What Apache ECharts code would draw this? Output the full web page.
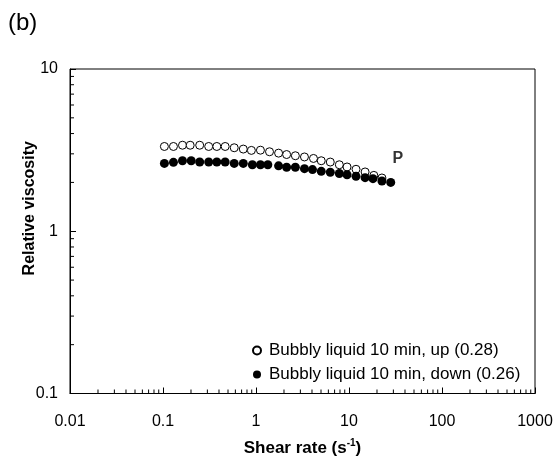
<!DOCTYPE html>
<html>
<head>
<meta charset="utf-8">
<script src="https://cdn.jsdelivr.net/npm/echarts@6/dist/echarts.min.js"></script>
<style>html,body{margin:0;padding:0;background:#fff}#c{width:556px;height:462px}</style>
</head>
<body>
<div id="c"></div>
<script>
// Data
var shearUp = [0.1035, 0.1295, 0.162, 0.196, 0.248, 0.31, 0.379, 0.466, 0.583, 0.73, 0.892, 1.116, 1.397, 1.749, 2.135, 2.65, 3.32, 4.15, 5.03, 6.29, 7.87, 9.53, 11.9, 14.9, 18.5, 22.6];
var viscUp  = [3.33, 3.33, 3.39, 3.39, 3.39, 3.33, 3.33, 3.33, 3.27, 3.21, 3.15, 3.16, 3.09, 3.03, 2.97, 2.92, 2.87, 2.81, 2.72, 2.67, 2.57, 2.49, 2.41, 2.32, 2.21, 2.13];
var shearDown = [0.1035, 0.1295, 0.162, 0.201, 0.248, 0.31, 0.379, 0.466, 0.583, 0.73, 0.914, 1.116, 1.34, 1.749, 2.135, 2.65, 3.32, 4.05, 5.03, 6.29, 7.87, 9.53, 11.9, 14.9, 18.1, 22.6, 28.1];
var viscDown  = [2.62, 2.66, 2.72, 2.72, 2.67, 2.67, 2.67, 2.67, 2.62, 2.62, 2.57, 2.57, 2.57, 2.53, 2.48, 2.48, 2.43, 2.40, 2.34, 2.31, 2.27, 2.23, 2.18, 2.14, 2.11, 2.04, 2.00];
var seriesNames = ['Bubbly liquid 10 min, up (0.28)', 'Bubbly liquid 10 min, down (0.26)'];
var xTicks = [0.01, 0.1, 1, 10, 100, 1000];
var yTicks = [0.1, 1, 10];
var xMinorTicks = [];
var yMinorTicks = [];
[0.01, 0.1, 1, 10, 100].forEach(function (d) { for (var k = 2; k <= 9; k++) xMinorTicks.push(+(d * k).toPrecision(6)); });
[0.1, 1].forEach(function (d) { for (var k = 2; k <= 9; k++) yMinorTicks.push(+(d * k).toPrecision(6)); });
var pointLabel = { text: 'P', x: 33.5, y: 2.8 };

function pair(xs, ys) { return xs.map(function (x, i) { return [x, ys[i]]; }); }
var fmt = function (v) { return String(+(+v).toPrecision(6)); };
var FONT = 'Arial, "Liberation Sans", sans-serif';

var chart = echarts.init(document.getElementById('c'));
chart.setOption({
  animation: false,
  backgroundColor: '#fff',
  textStyle: { fontFamily: FONT, color: '#000' },
  graphic: [{ type: 'text', left: 8, top: 11, style: { text: '(b)', font: '24px ' + FONT, fill: '#000' } }],
  grid: { left: 70, right: 21, top: 69, bottom: 65, show: true, borderColor: '#000', borderWidth: 1, backgroundColor: 'transparent' },
  legend: {
    orient: 'vertical', left: 247, top: 337, itemGap: 7, itemWidth: 14, itemHeight: 8,
    icon: 'circle', data: seriesNames,
    textStyle: { fontSize: 17, fontFamily: FONT, color: '#000' }
  },
  xAxis: {
    type: 'log', logBase: 10, min: 0.01, max: 1000,
    name: '{b|Shear rate (s}{sup|-1}{b|)}', nameLocation: 'middle', nameGap: 45, nameMoveOverlap: false,
    nameTextStyle: { rich: {
      b: { fontSize: 17, fontWeight: 'bold', fontFamily: FONT, color: '#000', lineHeight: 20 },
      sup: { fontSize: 10, fontWeight: 'bold', fontFamily: FONT, color: '#000', verticalAlign: 'top', lineHeight: 20, padding: [0, 0, 8, 0] }
    } },
    axisLine: { lineStyle: { color: '#000', width: 1 } },
    axisTick: { inside: true, length: 6, lineStyle: { color: '#000' } },
    axisLabel: { margin: 20, fontSize: 16, color: '#000', fontFamily: FONT, formatter: fmt },
    splitLine: { show: false }
  },
  yAxis: {
    type: 'log', logBase: 10, min: 0.1, max: 10,
    name: 'Relative viscosity', nameLocation: 'middle', nameGap: 32, nameMoveOverlap: false,
    nameTextStyle: { fontSize: 16, fontWeight: 'bold', color: '#000', fontFamily: FONT, padding: [0, 0, 0, 46] },
    axisLine: { lineStyle: { color: '#000', width: 1 } },
    axisTick: { inside: true, length: 6, lineStyle: { color: '#000' } },
    axisLabel: { margin: 12, fontSize: 16, color: '#000', fontFamily: FONT, formatter: fmt },
    splitLine: { show: false }
  },
  series: [
    {
      name: seriesNames[0], type: 'scatter', data: pair(shearUp, viscUp),
      symbol: 'circle', symbolSize: 8,
      itemStyle: { color: '#fff', borderColor: '#000', borderWidth: 1, opacity: 1 }
    },
    {
      name: seriesNames[1], type: 'scatter', data: pair(shearDown, viscDown),
      symbol: 'circle', symbolSize: 9,
      itemStyle: { color: '#000', borderColor: '#000', borderWidth: 0, opacity: 1 }
    },
    {
      name: 'label', type: 'scatter', data: [[pointLabel.x, pointLabel.y]], symbolSize: 0,
      label: { show: true, position: 'inside', formatter: pointLabel.text, fontSize: 16, fontWeight: 'bold', color: '#000', fontFamily: FONT },
      silent: true
    },
    {
      name: 'xminor', type: 'custom', silent: true, clip: false,
      data: xMinorTicks.map(function (v) { return [v]; }),
      renderItem: function (params, api) {
        var p = api.coord([api.value(0), 0.1]);
        return { type: 'line', shape: { x1: p[0], y1: p[1], x2: p[0], y2: p[1] - 4 }, style: { stroke: '#000', lineWidth: 1 } };
      }
    },
    {
      name: 'yminor', type: 'custom', silent: true, clip: false,
      data: yMinorTicks.map(function (v) { return [0.01, v]; }),
      renderItem: function (params, api) {
        var p = api.coord([0.01, api.value(1)]);
        return { type: 'line', shape: { x1: p[0], y1: p[1], x2: p[0] + 4, y2: p[1] }, style: { stroke: '#000', lineWidth: 1 } };
      }
    }
  ]
});
</script>
</body>
</html>
